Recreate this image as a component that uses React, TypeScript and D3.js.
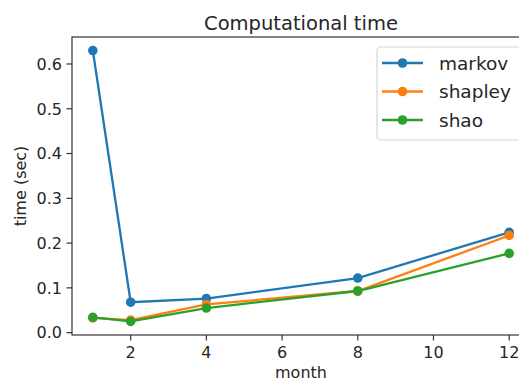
import React from "react";
import * as d3 from "d3";

const months = [1, 2, 4, 8, 12];
const markov = [0.63, 0.068, 0.076, 0.122, 0.224];
const shapley = [0.033, 0.028, 0.063, 0.093, 0.217];
const shao = [0.034, 0.025, 0.055, 0.093, 0.177];
const xTicks = [2, 4, 6, 8, 10, 12];
const yTicks = [0, 0.1, 0.2, 0.3, 0.4, 0.5, 0.6];

const series = [
    { name: "markov", values: markov, color: "#1f77b4" },
    { name: "shapley", values: shapley, color: "#ff7f0e" },
    { name: "shao", values: shao, color: "#2ca02c" },
];

const W = 519;
const H = 382;
const left = 72;
const right = 530;
const top = 37;
const bottom = 335;
const font = "DejaVu Sans, sans-serif";
const ink = "#262626";

const App = () => {
    const xMin = d3.min(months)!;
    const xMax = d3.max(months)!;
    const xPad = (xMax - xMin) * 0.05;
    const all = series.flatMap(s => s.values);
    const yMin = d3.min(all)!;
    const yMax = d3.max(all)!;
    const yPad = (yMax - yMin) * 0.05;

    const x = d3.scaleLinear().domain([xMin - xPad, xMax + xPad]).range([left, right]);
    const y = d3.scaleLinear().domain([yMin - yPad, yMax + yPad]).range([bottom, top]);

    const line = d3
        .line<number>()
        .x((_, i) => x(months[i]))
        .y(d => y(d));

    return (
        <svg
            width={W}
            height={H}
            style={{ position: "absolute", left: 0, top: 0, overflow: "hidden", background: "#fff" }}
            fontFamily={font}
        >
            {/* series */}
            {series.map(s => (
                <g key={s.name}>
                    <path d={line(s.values) || ""} fill="none" stroke={s.color} strokeWidth={2.3} />
                    {s.values.map((v, i) => (
                        <circle key={i} cx={x(months[i])} cy={y(v)} r={4.8} fill={s.color} />
                    ))}
                </g>
            ))}

            {/* frame */}
            <rect x={left} y={top} width={right - left} height={bottom - top} fill="none" stroke="#333" strokeWidth={1.2} />

            {/* x axis */}
            {xTicks.map(t => (
                <g key={t}>
                    <line x1={x(t)} x2={x(t)} y1={bottom} y2={bottom + 5.5} stroke="#333" strokeWidth={1.2} />
                    <text x={x(t)} y={358} textAnchor="middle" fontSize={16} fill={ink}>
                        {t}
                    </text>
                </g>
            ))}
            <text x={(left + right) / 2} y={378} textAnchor="middle" fontSize={16} fill={ink}>
                month
            </text>

            {/* y axis */}
            {yTicks.map(t => (
                <g key={t}>
                    <line x1={left - 5.5} x2={left} y1={y(t)} y2={y(t)} stroke="#333" strokeWidth={1.2} />
                    <text x={62} y={y(t)} dy="0.36em" textAnchor="end" fontSize={16} fill={ink}>
                        {d3.format(".1f")(t)}
                    </text>
                </g>
            ))}
            <text
                transform={`translate(25.5 ${(top + bottom) / 2}) rotate(-90)`}
                textAnchor="middle"
                fontSize={16}
                fill={ink}
            >
                time (sec)
            </text>

            {/* title */}
            <text x={(left + right) / 2} y={30} textAnchor="middle" fontSize={19.5} fill={ink}>
                Computational time
            </text>

            {/* legend */}
            <g>
                <rect x={377} y={47} width={160} height={93} rx={4} fill="#fff" fillOpacity={0.8} stroke="#d6d6d6" strokeWidth={1.2} />
                {series.map((s, i) => {
                    const ly = 63 + i * 28.5;
                    return (
                        <g key={s.name}>
                            <line x1={382} x2={423} y1={ly} y2={ly} stroke={s.color} strokeWidth={2.3} />
                            <circle cx={402.5} cy={ly} r={4.8} fill={s.color} />
                            <text x={439} y={ly} dy="0.36em" fontSize={18.5} fill={ink}>
                                {s.name}
                            </text>
                        </g>
                    );
                })}
            </g>
        </svg>
    );
};

export default App;
